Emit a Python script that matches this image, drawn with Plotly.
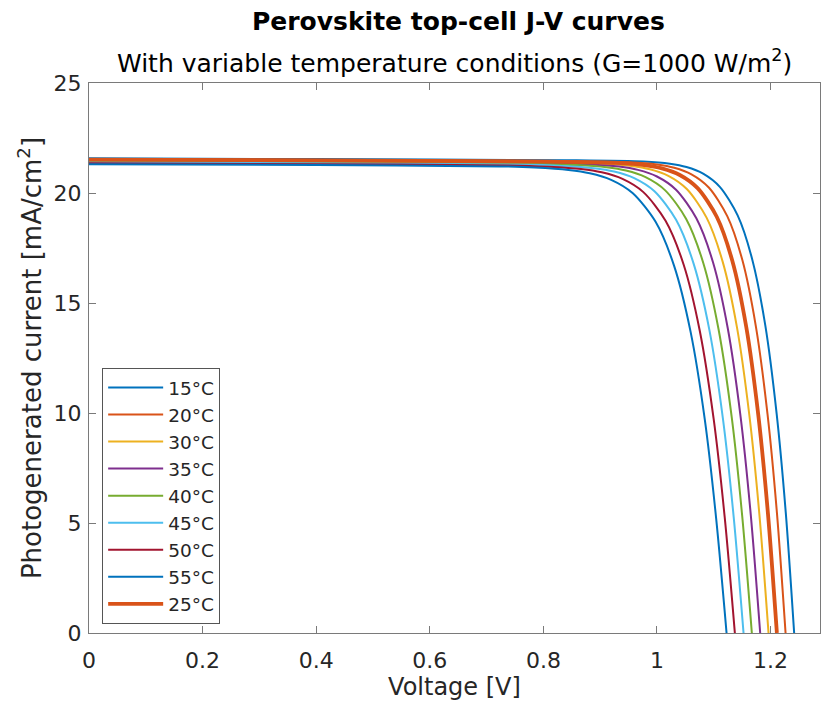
import plotly.graph_objects as go

# Legend / trace order as in the reference (25 °C drawn last, thicker)
labels = ["15°C", "20°C", "30°C", "35°C", "40°C", "45°C", "50°C", "55°C", "25°C"]
colors = ["#0072BD", "#D95319", "#EDB120", "#7E2F8E", "#77AC30", "#4DBEEE", "#A2142F", "#0072BD", "#D95319"]
widths = [2, 2, 2, 2, 2, 2, 2, 2, 3.8]

# Voltage [V] and current density [mA/cm^2]
V_15 = [0, 0.4, 0.8415, 0.9763, 1.0227, 1.0519, 1.0812, 1.1106, 1.1420, 1.1677, 1.1907, 1.2106, 1.2267, 1.2415]
J_15 = [21.58, 21.54, 21.49, 21.43, 21.33, 21.18, 20.88, 20.28, 18.98, 16.98, 13.98, 9.98, 5.48, 0]
V_20 = [0, 0.4, 0.8264, 0.9521, 1.0001, 1.0304, 1.0607, 1.0912, 1.1237, 1.1503, 1.1740, 1.1946, 1.2112, 1.2264]
J_20 = [21.55, 21.51, 21.46, 21.40, 21.30, 21.15, 20.85, 20.25, 18.95, 16.95, 13.95, 9.95, 5.45, 0]
V_25 = [0, 0.4, 0.8111, 0.9277, 0.9774, 1.0087, 1.0401, 1.0715, 1.1052, 1.1326, 1.1571, 1.1783, 1.1954, 1.2111]
J_25 = [21.52, 21.48, 21.43, 21.37, 21.27, 21.12, 20.82, 20.22, 18.92, 16.92, 13.92, 9.92, 5.42, 0]
V_30 = [0, 0.4, 0.7964, 0.9039, 0.9553, 0.9876, 1.0200, 1.0525, 1.0873, 1.1156, 1.1409, 1.1627, 1.1803, 1.1964]
J_30 = [21.49, 21.45, 21.40, 21.33, 21.23, 21.08, 20.78, 20.18, 18.88, 16.88, 13.88, 9.88, 5.38, 0]
V_35 = [0, 0.4, 0.7817, 0.8801, 0.9331, 0.9665, 0.9999, 1.0335, 1.0693, 1.0986, 1.1246, 1.1471, 1.1652, 1.1817]
J_35 = [21.46, 21.42, 21.36, 21.30, 21.20, 21.05, 20.75, 20.15, 18.85, 16.85, 13.85, 9.85, 5.35, 0]
V_40 = [0, 0.4, 0.7670, 0.8563, 0.9110, 0.9454, 0.9799, 1.0145, 1.0514, 1.0815, 1.1083, 1.1315, 1.1500, 1.1670]
J_40 = [21.43, 21.39, 21.33, 21.27, 21.17, 21.02, 20.72, 20.12, 18.82, 16.82, 13.82, 9.82, 5.32, 0]
V_45 = [0, 0.4, 0.7524, 0.8326, 0.8889, 0.9244, 0.9599, 0.9956, 1.0336, 1.0646, 1.0922, 1.1159, 1.1350, 1.1524]
J_45 = [21.39, 21.35, 21.29, 21.23, 21.13, 20.98, 20.68, 20.08, 18.78, 16.78, 13.78, 9.78, 5.28, 0]
V_50 = [0, 0.4, 0.7371, 0.8082, 0.8662, 0.9027, 0.9393, 0.9760, 1.0151, 1.0470, 1.0753, 1.0997, 1.1193, 1.1371]
J_50 = [21.35, 21.31, 21.25, 21.19, 21.09, 20.94, 20.64, 20.04, 18.74, 16.74, 13.74, 9.74, 5.24, 0]
V_55 = [0, 0.4, 0.7225, 0.7846, 0.8442, 0.8817, 0.9193, 0.9570, 0.9973, 1.0300, 1.0591, 1.0842, 1.1042, 1.1225]
J_55 = [21.31, 21.27, 21.21, 21.16, 21.05, 20.90, 20.60, 20.00, 18.70, 16.70, 13.70, 9.70, 5.20, 0]

x_ticks = [0, 0.2, 0.4, 0.6, 0.8, 1, 1.2]
x_tick_text = ["0", "0.2", "0.4", "0.6", "0.8", "1", "1.2"]
y_ticks = [0, 5, 10, 15, 20, 25]

series_V = [V_15, V_20, V_30, V_35, V_40, V_45, V_50, V_55, V_25]
series_J = [J_15, J_20, J_30, J_35, J_40, J_45, J_50, J_55, J_25]

FONT = "DejaVu Sans"
TXT = "#262626"
AX = "#7a7a7a"

fig = go.Figure()
for lab, col, w, v, j in zip(labels, colors, widths, series_V, series_J):
    fig.add_trace(go.Scatter(
        x=v, y=j, mode="lines", name=lab,
        line=dict(color=col, width=w, shape="spline", smoothing=0.8),
    ))

axis_common = dict(
    showline=True, linecolor=AX, linewidth=1, mirror="allticks",
    ticks="inside", ticklen=7, tickcolor=AX, tickwidth=1,
    showgrid=False, zeroline=False, automargin=False,
    tickfont=dict(family=FONT, size=22, color=TXT),
)

fig.update_layout(
    width=821, height=703,
    margin=dict(l=89, r=1, t=83, b=70),
    paper_bgcolor="white", plot_bgcolor="white",
    font=dict(family=FONT, color=TXT),
    xaxis=dict(range=[0, 1.287], tickvals=x_ticks, ticktext=x_tick_text,
               ticklabelstandoff=8,
               title=dict(text="Voltage [V]", font=dict(family=FONT, size=24, color=TXT), standoff=2),
               **axis_common),
    yaxis=dict(range=[0, 25], tickvals=y_ticks,
               ticklabelstandoff=2,
               title=dict(text="Photogenerated current [mA/cm<sup>2</sup>]",
                          font=dict(family=FONT, size=26, color=TXT), standoff=4),
               **axis_common),
    legend=dict(
        x=0.018, y=0.482, xanchor="left", yanchor="top",
        bgcolor="white", bordercolor="#555555", borderwidth=1,
        font=dict(family=FONT, size=18.5, color=TXT),
        tracegroupgap=0, itemwidth=55,
    ),
    showlegend=True,
    annotations=[
        dict(text="<b>Perovskite top-cell J-V curves</b>", xref="paper", yref="paper",
             x=0.5, y=1, xshift=4, yshift=62, xanchor="center", yanchor="middle", showarrow=False,
             font=dict(family=FONT, size=25, color="black")),
        dict(text="With variable temperature conditions (G=1000 W/m<sup>2</sup>)", xref="paper", yref="paper",
             x=0.5, y=1, yshift=22, xanchor="center", yanchor="middle", showarrow=False,
             font=dict(family=FONT, size=25, color="black")),
    ],
)

fig.write_html("out.html", default_width="821px", default_height="703px",
               config={"displayModeBar": False},
               post_script="document.body.style.margin='0px';")
